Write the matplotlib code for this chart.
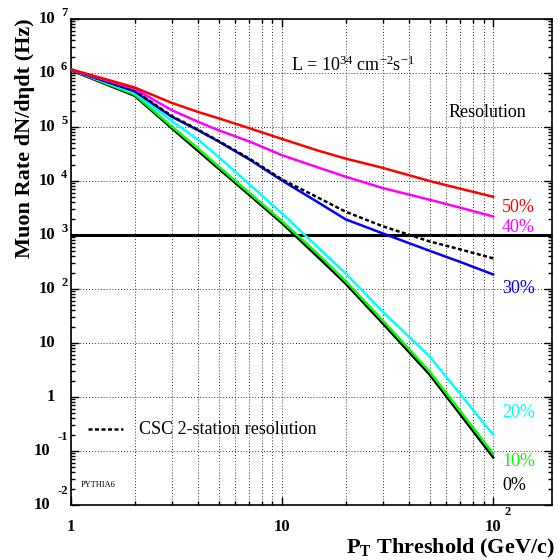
import numpy as np
import matplotlib
matplotlib.use('Agg')
import matplotlib.pyplot as plt
from matplotlib import ticker, transforms

plt.rcParams['font.family'] = ['Liberation Serif', 'DejaVu Serif']
plt.rcParams['mathtext.fontset'] = 'custom'
plt.rcParams['mathtext.rm'] = 'Liberation Serif'
plt.rcParams['mathtext.it'] = 'Liberation Serif:italic'
plt.rcParams['mathtext.bf'] = 'Liberation Serif:bold'

# pT threshold (GeV/c) and muon rates (Hz) per resolution
pt = [1, 2, 3, 4, 5, 7, 10, 15, 20, 30, 50, 70, 100]
rate_50 = [1.17e6, 5.4e5, 2.8e5, 1.9e5, 1.45e5, 9.5e4, 6.0e4, 3.6e4, 2.6e4, 1.75e4, 1.0e4, 7.2e3, 5.1e3]
rate_40 = [1.15e6, 5.1e5, 2.05e5, 1.25e5, 8.7e4, 5.4e4, 3.0e4, 1.75e4, 1.2e4, 7.4e3, 4.5e3, 3.2e3, 2.2e3]
rate_30 = [1.15e6, 4.6e5, 1.55e5, 8.7e4, 5.4e4, 2.5e4, 1.02e4, 3.9e3, 1.95e3, 1.07e3, 510, 316, 186]
rate_csc = [1.15e6, 4.7e5, 1.6e5, 8.9e4, 5.5e4, 2.6e4, 1.07e4, 4.8e3, 2.7e3, 1.45e3, 760, 540, 370]
rate_20 = [1.15e6, 4.3e5, 1.3e5, 5.8e4, 2.8e4, 8.7e3, 2.5e3, 560, 195, 38, 5.6, 1.12, 0.20]
rate_10 = [1.15e6, 4.0e5, 1.02e5, 4.0e4, 1.85e4, 6.0e3, 1.8e3, 420, 140, 26, 2.95, 0.54, 0.089]
rate_0 = [1.12e6, 3.8e5, 9.5e4, 3.6e4, 1.7e4, 5.5e3, 1.65e3, 370, 126, 23, 2.6, 0.47, 0.076]

res_labels = ['50%', '40%', '30%', '20%', '10%', '0%']
res_colors = ['#ff0000', '#ff00ff', '#0000ff', '#00ffff', '#00ff00', '#000000']
label_y = [0.613, 0.572, 0.4465, 0.191, 0.0885, 0.041]

fig = plt.figure(figsize=(5.58, 5.6), dpi=100)
ax = fig.add_axes([71/558, 1-505/560, 481/558, 486/560])
ax.set_xscale('log')
ax.set_yscale('log')
ax.set_xlim(1, 190)
ax.set_ylim(1e-2, 1e7)

lw = 1.8
ax.plot(pt, rate_0, color=res_colors[5], lw=lw, zorder=3)
ax.plot(pt, rate_10, color=res_colors[4], lw=lw, zorder=3)
ax.plot(pt, rate_20, color=res_colors[3], lw=lw, zorder=3)
ax.plot(pt, rate_30, color=res_colors[2], lw=lw, zorder=3)
ax.plot(pt, rate_csc, color='black', lw=lw, ls=(0, (1.6, 1.0)), zorder=3)
ax.plot(pt, rate_40, color=res_colors[1], lw=lw, zorder=3)
ax.plot(pt, rate_50, color=res_colors[0], lw=lw, zorder=3)

ax.axhline(1e3, color='black', lw=2.2, zorder=2)

# axes, ticks and grid
ax.xaxis.set_major_locator(ticker.LogLocator(base=10, numticks=20))
ax.xaxis.set_minor_locator(ticker.LogLocator(base=10, subs=np.arange(2, 10), numticks=20))
ax.yaxis.set_major_locator(ticker.LogLocator(base=10, numticks=20))
ax.yaxis.set_minor_locator(ticker.LogLocator(base=10, subs=np.arange(2, 10), numticks=20))
ax.tick_params(which='both', direction='in', top=True, right=True,
               labelleft=False, labelbottom=False, width=1)
ax.tick_params(which='major', length=6)
ax.tick_params(which='minor', length=3)
ax.xaxis.grid(True, which='both', color='#333333', ls=(0, (1, 2)), lw=0.7)
ax.yaxis.grid(True, which='major', color='#333333', ls=(0, (1, 2)), lw=0.7)
ax.set_axisbelow(True)
for s in ax.spines.values():
    s.set_linewidth(1.2)

# y tick labels, ROOT style 10 + raised exponent
ytr = ax.get_yaxis_transform()
ydec = [1e7, 1e6, 1e5, 1e4, 1e3, 1e2, 10, 1, 1e-1, 1e-2]
ybase = ['10', '10', '10', '10', '10', '10', '10', '1', '10', '10']
yexp = ['7', '6', '5', '4', '3', '2', '', '', '-1', '-2']
for v, b, e in zip(ydec, ybase, yexp):
    neg = e.startswith('-')
    bx = (50 - 71) / 481 if neg else (55 - 71) / 481
    ax.text(bx, v, b, transform=ytr, ha='right', va='center',
            fontsize=12, fontweight='bold', clip_on=False)
    if e:
        ex = (57 - 71) / 481 if neg else (61 - 71) / 481
        dy = 10 if neg else 4.5
        t = transforms.offset_copy(ytr, fig=fig, x=0, y=dy, units='points')
        ax.text(ex, v, e, transform=t, ha='left', va='center',
                fontsize=9, fontweight='bold', clip_on=False)

# x tick labels
xtr = ax.get_xaxis_transform()
ax.text(1, -0.0453, '1', transform=xtr, ha='center', va='center', fontsize=12, fontweight='bold')
ax.text(10, -0.0453, '10', transform=xtr, ha='center', va='center', fontsize=12, fontweight='bold')
ax.text(100, -0.0453, '10', transform=xtr, ha='center', va='center', fontsize=12, fontweight='bold')
ax.text(10**((504 - 71) / 211), -0.0144, '2', transform=xtr, ha='left', va='center',
        fontsize=9, fontweight='bold')

fig.text(25/558, 1 - 18/560, 'Muon Rate dN/dηdt (Hz)', rotation=90, ha='center', va='top',
         fontsize=16, fontweight='bold')
fig.text(555/558, 1 - 548/560, r'P$_{\mathbf{T}}$ Threshold (GeV/c)', ha='right', va='center',
         fontsize=16, fontweight='bold')

# annotations
ax.text(0.457, 0.905, r'L = 10$^{34}$ cm$^{-2}$s$^{-1}$', transform=ax.transAxes,
        ha='left', va='center', fontsize=13)
ax.text(0.784, 0.8086, 'Resolution', transform=ax.transAxes, ha='left', va='center', fontsize=13)
for lab, c, y in zip(res_labels, res_colors, label_y):
    ax.text(0.896, y, lab, transform=ax.transAxes, ha='left', va='center', fontsize=13, color=c)

ax.plot([17/481, 52/481], [0.156, 0.156], transform=ax.transAxes, color='black',
        lw=lw, ls=(0, (1.6, 1.0)))
ax.text(0.1414, 0.156, 'CSC 2-station resolution', transform=ax.transAxes,
        ha='left', va='center', fontsize=13)
ax.text(0.0208, 0.041, 'PYTHIA6', transform=ax.transAxes, ha='left', va='center', fontsize=6)

fig.savefig('out.png', dpi=100)
